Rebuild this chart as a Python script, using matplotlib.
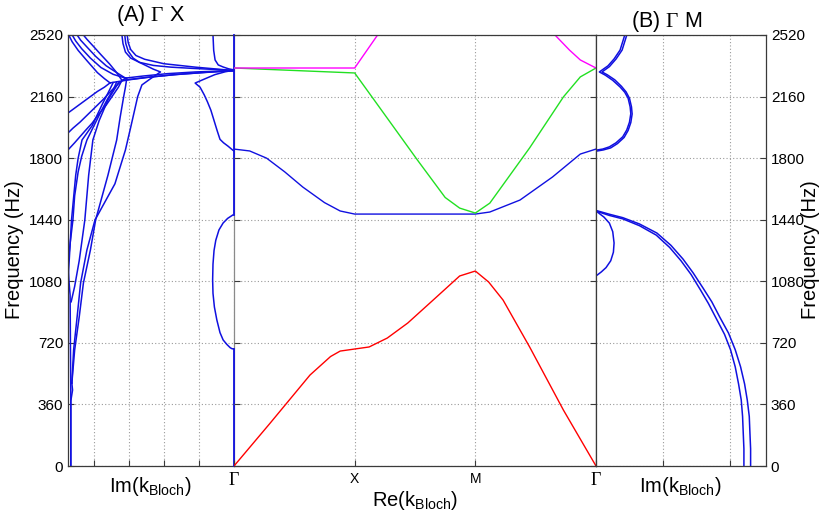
import matplotlib
matplotlib.use("Agg")
import matplotlib.pyplot as plt

plt.rcParams['font.family'] = ['Liberation Sans', 'DejaVu Sans']
plt.rcParams['mathtext.fontset'] = 'custom'
plt.rcParams['mathtext.rm'] = 'Liberation Sans'
plt.rcParams['mathtext.sf'] = 'Liberation Serif'

# frequency ticks (Hz)
freq_ticks = [0, 360, 720, 1080, 1440, 1800, 2160, 2520]
path_labels = ['Γ', 'X', 'M', 'Γ']

# ---- Re(k) band structure along Γ-X-M-Γ ----
band1_k = [0, 0.30, 0.63, 0.80, 0.88, 1.0, 1.12, 1.27, 1.44, 1.65, 1.87, 2.0, 2.11, 2.23, 2.45, 2.73, 3.0]
band1_f = [0, 251, 532, 640, 672, 684, 696, 748, 836, 970, 1111, 1140, 1076, 970, 696, 327, 0]
band2_k = [0, 0.13, 0.27, 0.42, 0.57, 0.75, 0.88, 1.0, 2.0, 2.12, 2.37, 2.64, 2.87, 3.0]
band2_f = [1853, 1842, 1800, 1720, 1631, 1540, 1491, 1473, 1473, 1485, 1555, 1690, 1824, 1853]
band3_k = [0, 1.0, 1.18, 1.52, 1.75, 1.87, 2.0, 2.12, 2.45, 2.73, 2.87, 3.0]
band3_f = [2327, 2298, 2122, 1789, 1570, 1508, 1479, 1537, 1860, 2158, 2275, 2327]
band4a_k = [0, 1.0, 1.19]
band4a_f = [2327, 2327, 2520]
band4b_k = [2.66, 2.78, 2.87, 3.0]
band4b_f = [2520, 2432, 2374, 2327]

# ---- Im(k) along Γ-X (left panel) ----
gx_top_a = ([4.72, 4.62, 4.45, 4.2, 3.9, 3.7, 3.54], [2520, 2480, 2430, 2370, 2300, 2265, 2240])
gx_top_b = ([4.62, 4.52, 4.35, 4.1, 3.8, 3.45, 3.1], [2520, 2485, 2440, 2385, 2330, 2290, 2268])
gx_top_c = ([4.48, 4.38, 4.2, 3.95, 3.65, 3.35, 3.1], [2520, 2490, 2450, 2395, 2340, 2300, 2268])
gx_top_d = ([4.3, 4.2, 4.02, 3.8, 3.55, 3.35, 3.2], [2520, 2495, 2455, 2405, 2350, 2300, 2255])
gx_mid_a = ([3.54, 3.0, 2.4, 1.6, 0.8, 0.0], [2240, 2258, 2274, 2290, 2302, 2312])
gx_mid_b = ([3.1, 2.6, 1.9, 1.1, 0.0], [2268, 2280, 2294, 2304, 2312])
gx_mid_c = ([3.2, 2.5, 1.7, 0.9, 0.0], [2255, 2272, 2288, 2300, 2312])
gx_up_a = ([3.2, 3.17, 3.1, 2.95, 2.7, 2.3, 1.8, 1.2, 0.3, 0.0],
           [2520, 2470, 2420, 2385, 2360, 2342, 2332, 2325, 2316, 2312])
gx_up_b = ([3.05, 3.02, 2.95, 2.8, 2.55, 2.0, 1.1, 0.0],
           [2520, 2475, 2435, 2400, 2378, 2352, 2332, 2312])
gx_up_c = ([3.12, 3.09, 3.02, 2.88, 2.7, 2.3, 2.1, 2.4, 2.63, 2.75, 2.95, 3.1, 3.4, 3.97, 4.2, 4.38, 4.48, 4.58, 4.63],
           [2520, 2470, 2425, 2385, 2360, 2320, 2304, 2262, 2228, 2160, 1980, 1848, 1650, 1438, 1263, 1070, 871, 678, 485])
gx_fan_a = ([3.54, 3.7, 3.9, 4.1, 4.3, 4.5, 4.74], [2240, 2215, 2190, 2160, 2130, 2100, 2064])
gx_fan_b = ([3.1, 3.3, 3.5, 3.75, 4.0, 4.2, 4.4, 4.6, 4.74], [2268, 2235, 2195, 2140, 2090, 2050, 2010, 1975, 1947])
gx_fan_c = ([3.2, 3.3, 3.45, 3.65, 3.85, 4.05, 4.25, 4.55, 4.74], [2255, 2215, 2170, 2110, 2060, 2005, 1960, 1890, 1848])
gx_fan_d = ([3.35, 3.45, 3.6, 3.78, 3.95, 4.2, 4.35, 4.45, 4.55, 4.6, 4.68, 4.74],
            [2245, 2200, 2150, 2080, 2010, 1906, 1810, 1720, 1580, 1438, 1300, 1180])
gx_fan_e = ([3.45, 3.6, 3.75, 3.9, 4.05, 4.34, 4.45, 4.52, 4.64, 4.72, 4.74],
            [2242, 2180, 2120, 2055, 1990, 1906, 1800, 1700, 1438, 1150, 1000])
gx_fan_f = ([3.3, 3.45, 3.6, 3.85, 4.03, 4.15, 4.26, 4.42, 4.55, 4.65],
            [2240, 2190, 2140, 2020, 1906, 1700, 1438, 1200, 1050, 960])
gx_fan_g = ([3.06, 3.1, 3.15, 3.25, 3.35, 3.6, 3.95, 4.1, 4.3, 4.42, 4.55, 4.63],
            [2268, 2215, 2160, 2040, 1906, 1700, 1440, 1263, 1070, 871, 678, 485])
gx_low_a = ([4.63, 4.61, 4.66, 4.66], [485, 444, 380, 0])
gx_low_b = ([4.74, 4.68, 4.67, 4.66, 4.66], [1150, 1000, 700, 400, 0])
gx_g1 = ([0.6, 0.58, 0.54, 0.45, 0.31, 0.15, 0.0], [2520, 2430, 2374, 2345, 2333, 2322, 2316])
gx_g2 = ([0.0, 0.03, 0.17, 0.3, 0.4, 0.48, 0.57, 0.66, 0.76, 0.85, 0.97, 1.11, 0.85, 0.55, 0.25, 0.0],
         [1842, 1846, 1870, 1890, 1910, 1960, 2020, 2080, 2130, 2170, 2215, 2239, 2262, 2288, 2305, 2314])
gx_g3 = ([0.0, 0.06, 0.11, 0.2, 0.31, 0.4, 0.49, 0.56, 0.6, 0.61, 0.6, 0.57, 0.52, 0.43, 0.31, 0.18, 0.03],
         [684, 686, 692, 710, 737, 780, 854, 930, 1010, 1088, 1180, 1260, 1320, 1380, 1421, 1448, 1468])
gx_g4 = ([0, 0], [0, 684])
gx_g5 = ([0, 0], [1468, 2520])

# ---- Im(k) along Γ-M (right panel) ----
gm_a = ([0.43, 0.36, 0.27, 0.18, 0.05, 0.14, 0.25, 0.36, 0.43, 0.48, 0.51, 0.52, 0.5, 0.46, 0.4, 0.3, 0.2, 0.1, 0.02],
        [2520, 2432, 2380, 2340, 2304, 2285, 2255, 2216, 2185, 2150, 2100, 2060, 2010, 1965, 1925, 1890, 1866, 1853, 1848])
gm_b = ([0.46, 0.39, 0.3, 0.2, 0.09, 0.17, 0.28, 0.38, 0.45, 0.5, 0.53, 0.54, 0.52, 0.48, 0.42, 0.32, 0.22, 0.11, 0.02],
        [2520, 2432, 2380, 2335, 2304, 2287, 2258, 2220, 2187, 2150, 2100, 2058, 2008, 1962, 1921, 1885, 1860, 1848, 1842])
gm_arc = ([0.02, 0.12, 0.2, 0.25, 0.27, 0.26, 0.22, 0.15, 0.08, 0.02],
          [1485, 1455, 1420, 1370, 1304, 1250, 1200, 1160, 1135, 1117])
gm_out = ([0.02, 0.2, 0.4, 0.65, 0.91, 1.12, 1.3, 1.45, 1.6, 1.73, 1.85, 1.98, 2.08, 2.16, 2.22, 2.26, 2.29, 2.3, 2.31, 2.31],
          [1492, 1472, 1452, 1415, 1362, 1290, 1210, 1130, 1040, 960, 870, 777, 680, 580, 480, 386, 290, 193, 100, 0])
gm_in = ([0.02, 0.2, 0.4, 0.65, 0.9, 1.1, 1.27, 1.42, 1.56, 1.68, 1.8, 1.92, 2.01, 2.08, 2.13, 2.17, 2.19, 2.2, 2.21, 2.21],
         [1488, 1465, 1445, 1405, 1350, 1278, 1200, 1120, 1030, 950, 860, 770, 680, 580, 480, 386, 290, 193, 100, 0])

gx_curves = [gx_top_a, gx_top_b, gx_top_c, gx_top_d, gx_mid_a, gx_mid_b, gx_mid_c,
             gx_up_a, gx_up_b, gx_up_c, gx_fan_a, gx_fan_b, gx_fan_c, gx_fan_d,
             gx_fan_e, gx_fan_f, gx_fan_g, gx_low_a, gx_low_b, gx_g1, gx_g2, gx_g3]
gx_axis_lines = [gx_g4, gx_g5]
gm_curves = [gm_a, gm_b, gm_arc, gm_out, gm_in]

blue = '#1010e0'
grid_kw = dict(color='#9a9a9a', linestyle=(0, (1, 2)), linewidth=0.8)
spine_col = '#3a3a3a'
kb = r'(k$_{\rm Bloch}$)'

fig = plt.figure(figsize=(8.23, 5.18), dpi=100)
bottom, height = 52 / 518, 431 / 518
ax_l = fig.add_axes([68 / 823, bottom, 166 / 823, height])
ax_m = fig.add_axes([234 / 823, bottom, 362 / 823, height])
ax_r = fig.add_axes([596 / 823, bottom, 170 / 823, height])

for ax in (ax_l, ax_m, ax_r):
    ax.set_ylim(0, 2520)
    ax.set_yticks(freq_ticks)
    ax.grid(True, **grid_kw)
    ax.tick_params(direction='in', length=4, width=0.8, colors=spine_col,
                   labelcolor='black', labelsize=11, top=True, right=True)
    for s in ax.spines.values():
        s.set_color(spine_col)
        s.set_linewidth(0.9)

# left panel
ax_l.spines['right'].set_color('#8a8a8a')
for im, f in gx_curves:
    ax_l.plot(im, f, color=blue, lw=1.1)
for im, f in gx_axis_lines:
    ax_l.plot(im, f, color=blue, lw=1.3, clip_on=False, zorder=5)
ax_l.set_xlim(4.74, 0)
ax_l.set_xticks([4, 3, 2, 1, 0])
ax_l.set_xticklabels([])
ax_l.tick_params(axis='x', top=False)
ax_l.tick_params(axis='y', right=False)
fig.text(150 / 823, 1 - 486 / 518, 'Im' + kb, fontsize=14.5, ha='center', va='center')
fig.text(15 / 823, 1 - 250 / 518, 'Frequency (Hz)', fontsize=14.5,
         rotation=90, ha='center', va='center')
fig.text(150 / 823, 1 - 16 / 518, r'(A) $\mathsf{\Gamma}$ X', fontsize=15.5,
         ha='center', va='center')

# middle panel
ax_m.patch.set_alpha(0)
ax_m.spines['left'].set_visible(False)
ax_m.plot(band1_k, band1_f, color='#ff0000', lw=1.0)
ax_m.plot(band2_k, band2_f, color=blue, lw=1.0)
ax_m.plot(band3_k, band3_f, color='#22e022', lw=1.0)
ax_m.plot(band4a_k, band4a_f, color='#ff00ff', lw=1.0)
ax_m.plot(band4b_k, band4b_f, color='#ff00ff', lw=1.0)
ax_m.set_xlim(0, 3)
ax_m.set_xticks([0, 1, 2, 3])
ax_m.set_xticklabels(path_labels, fontsize=10)
for lab in ax_m.get_xticklabels():
    if lab.get_text() == 'Γ':
        lab.set_fontfamily('Liberation Serif')
        lab.set_fontsize(13)
xgrid = ax_m.get_xgridlines()
xgrid[0].set_visible(False)
xgrid[-1].set_visible(False)
ax_m.set_yticklabels([])
ax_m.tick_params(axis='x', top=False, pad=4)
fig.text(415 / 823, 1 - 500 / 518, 'Re' + kb, fontsize=14.5,
         ha='center', va='center')

# right panel
for im, f in gm_curves:
    ax_r.plot(im, f, color=blue, lw=1.1)
ax_r.set_xlim(0, 2.54)
ax_r.set_xticks([0, 1, 2])
ax_r.set_xticklabels([])
ax_r.get_xgridlines()[0].set_visible(False)
ax_r.tick_params(axis='x', top=False)
ax_r.tick_params(axis='y', left=False, labelleft=False, labelright=True)
fig.text(680 / 823, 1 - 486 / 518, 'Im' + kb, fontsize=14.5, ha='center', va='center')
fig.text(811 / 823, 1 - 250 / 518, 'Frequency (Hz)', fontsize=14.5,
         rotation=90, ha='center', va='center')
fig.text(667 / 823, 1 - 22 / 518, r'(B) $\mathsf{\Gamma}$ M', fontsize=15.5,
         ha='center', va='center')

fig.savefig('out.png', dpi=100)
plt.close(fig)
